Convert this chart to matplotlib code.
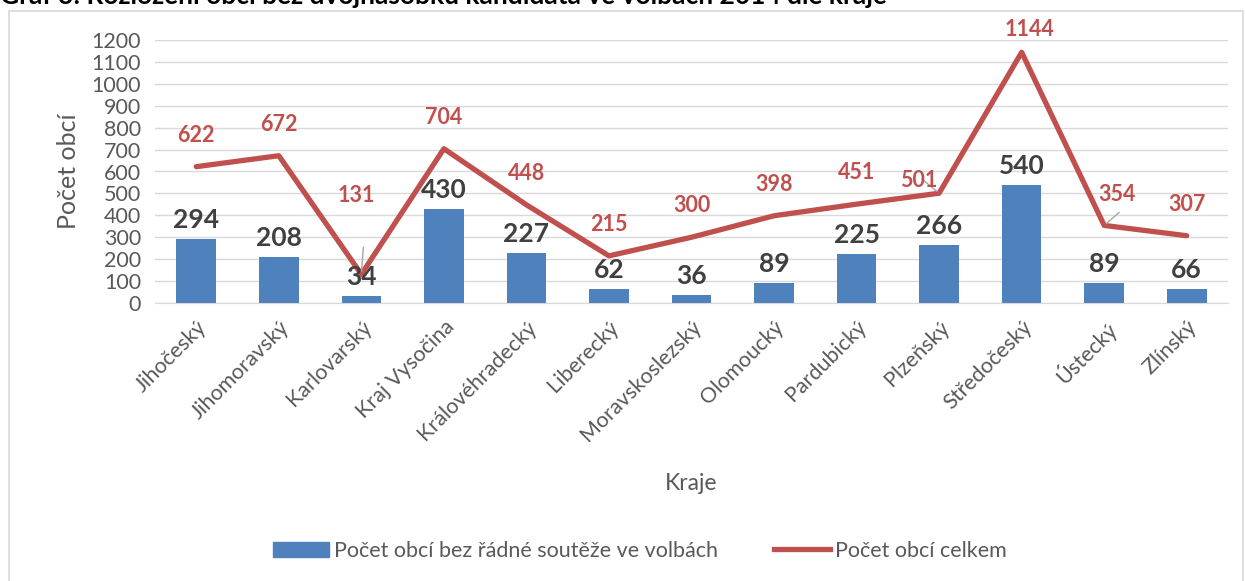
import matplotlib
matplotlib.use("Agg")
import matplotlib.pyplot as plt
from matplotlib.patches import Rectangle
from matplotlib.lines import Line2D

kraje = ["Jihočeský", "Jihomoravský", "Karlovarský", "Kraj Vysočina", "Královéhradecký",
         "Liberecký", "Moravskoslezský", "Olomoucký", "Pardubický", "Plzeňský",
         "Středočeský", "Ústecký", "Zlínský"]
bez_souteze = [294, 208, 34, 430, 227, 62, 36, 89, 225, 266, 540, 89, 66]
celkem = [622, 672, 131, 704, 448, 215, 300, 398, 451, 501, 1144, 354, 307]

plt.rcParams['font.family'] = ['Lato', 'DejaVu Sans']

W, H = 1245, 581
fig = plt.figure(figsize=(W / 100, H / 100), dpi=100)

# chart border
fig.patches.append(Rectangle((9 / W, -0.1), (1243 - 9) / W, 1.1 - 11 / H, transform=fig.transFigure,
                             fill=False, edgecolor="#D9D9D9", linewidth=1.2))
# clipped title
fig.text(0 / W, 1 - 4 / H, "Graf 3: Rozložení obcí bez dvojnásobku kandidáta ve volbách 2014 dle kraje",
         fontsize=19, fontweight="bold", color="#000000", va="baseline", ha="left")

ax = fig.add_axes([155 / W, 1 - 303 / H, (1228 - 155) / W, (303 - 40) / H])
x = list(range(len(kraje)))
ax.bar(x, bez_souteze, width=0.48, color="#4F81BD", zorder=2)
ax.plot(x, celkem, color="#C0504D", linewidth=3.8, zorder=3, solid_capstyle="round")

ax.set_xlim(-0.5, len(kraje) - 0.5)
ax.set_ylim(0, 1200)
ax.set_yticks(range(0, 1201, 100))
ax.grid(axis="y", color="#D9D9D9", linewidth=1, zorder=0)
ax.set_axisbelow(True)
for s in ["top", "right", "left"]:
    ax.spines[s].set_visible(False)
ax.spines["bottom"].set_color("#D9D9D9")
ax.tick_params(axis="both", length=0, labelsize=15.5, labelcolor="#595959")
ax.tick_params(axis="y", pad=10)
ax.set_xticks(x)
ax.set_xticklabels(kraje, rotation=45, ha="right", rotation_mode="anchor")
ax.tick_params(axis="x", pad=10)
ax.set_ylabel("Počet obcí", fontsize=18, color="#595959", labelpad=8)
ax.set_xlabel("Kraje", fontsize=16.5, color="#595959", labelpad=20)

# bar labels
for i, v in enumerate(bez_souteze):
    ax.annotate(str(v), (i, v), xytext=(0, 7), textcoords="offset pixels",
                ha="center", va="bottom", fontsize=19, fontweight="bold", color="#404040", zorder=5)

# line labels
special = {2: (-5, 68), 9: (-20, 2), 10: (8, 12), 11: (13, 20)}
for i, v in enumerate(celkem):
    off = special.get(i, (0, 21))
    ax.annotate(str(v), (i, v), xytext=off, textcoords="offset pixels",
                ha="center", va="bottom", fontsize=15.5, fontweight="bold", color="#C0504D",
                zorder=5, annotation_clip=False)

# leader lines
for i, (dx2, dy2) in {2: (2, 27), 9: (-17, 14), 11: (15, 13)}.items():
    ax.annotate("", xy=(i, celkem[i]), xytext=(dx2, dy2), textcoords="offset pixels",
                arrowprops=dict(arrowstyle="-", color="#A6A6A6", lw=1, shrinkA=0, shrinkB=2))

handles = [Rectangle((0, 0), 1, 1, color="#4F81BD"),
           Line2D([0], [0], color="#C0504D", linewidth=3.8)]
fig.legend(handles, ["Počet obcí bez řádné soutěže ve volbách", "Počet obcí celkem"],
           loc="center", bbox_to_anchor=(640 / W, 1 - 551 / H), ncol=2, frameon=False,
           fontsize=15.5, labelcolor="#595959", handlelength=2.6, columnspacing=2.6, handletextpad=0.25)

fig.savefig("out.png", dpi=100)
